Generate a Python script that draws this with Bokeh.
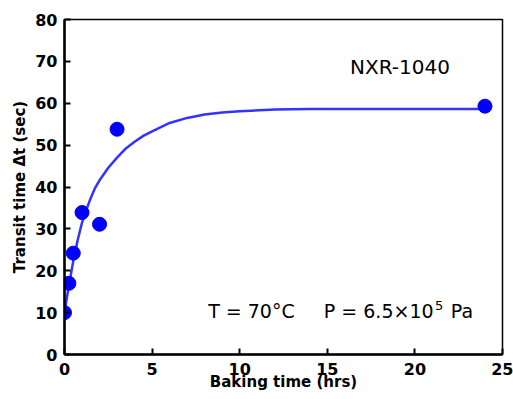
from bokeh.plotting import figure
from bokeh.models import Range1d, Label, FixedTicker
from bokeh.embed import file_html
from bokeh.resources import INLINE

# measured data points
bake_hrs = [0, 0.25, 0.5, 1.0, 2.0, 3.0, 24.0]
transit_sec = [10.0, 17.0, 24.2, 33.9, 31.1, 53.8, 59.3]

# fitted curve
fit_hrs = [0, 0.25, 0.5, 0.75, 1.0, 1.25, 1.5, 1.75, 2.0, 2.5, 3.0, 3.5, 4.0,
           4.5, 5.0, 6.0, 7.0, 8.0, 9.0, 10.0, 12.0, 14.0, 17.0, 20.0, 24.0]
fit_sec = [10.0, 16.5, 22.3, 27.3, 31.5, 34.6, 37.4, 39.8, 41.6, 44.6, 47.0,
           49.2, 50.8, 52.2, 53.3, 55.3, 56.5, 57.3, 57.8, 58.1, 58.5, 58.6,
           58.6, 58.6, 58.6]

x_ticks = [0, 5, 10, 15, 20, 25]
y_ticks = [0, 10, 20, 30, 40, 50, 60, 70, 80]

p = figure(width=513, height=399, output_backend="svg", toolbar_location=None,
           x_range=Range1d(0, 25), y_range=Range1d(0, 80),
           min_border_left=64, min_border_right=11, min_border_top=19,
           min_border_bottom=45)
p.xgrid.visible = False
p.ygrid.visible = False
p.outline_line_color = "black"
p.outline_line_width = 1.5
p.background_fill_color = "white"
p.border_fill_color = "white"

for ax in (p.xaxis, p.yaxis):
    ax.axis_line_width = 2.5
    ax.axis_line_color = "black"
    ax.major_tick_in = 6
    ax.major_tick_out = 0
    ax.major_tick_line_width = 2
    ax.minor_tick_in = 0
    ax.minor_tick_out = 0
    ax.major_label_text_font = "DejaVu Sans"
    ax.major_label_text_font_style = "bold"
    ax.major_label_text_font_size = "16px"
    ax.major_label_text_color = "black"
    ax.axis_label_text_font = "DejaVu Sans"
    ax.axis_label_text_font_style = "bold"
    ax.axis_label_text_font_size = "15px"
    ax.axis_label_text_color = "black"

p.xaxis.ticker = FixedTicker(ticks=x_ticks)
p.yaxis.ticker = FixedTicker(ticks=y_ticks)
p.xaxis.axis_label = "Baking time (hrs)"
p.yaxis.axis_label = "Transit time \u0394t (sec)"
p.xaxis.major_label_standoff = 8
p.xaxis.axis_label_standoff = -5
p.yaxis.major_label_standoff = 7
p.yaxis.axis_label_standoff = 3

p.line(fit_hrs, fit_sec, line_width=2.5, line_color="#3333FF")
r = p.scatter(bake_hrs, transit_sec, size=14, fill_color="#0000FF",
              line_color="#0000FF")
try:
    r.clip = False
except Exception:
    pass

def lab(x, y, t, size):
    p.add_layout(Label(x=x, y=y, text=t, text_font="DejaVu Sans",
                       text_font_size=size, text_color="black",
                       text_baseline="alphabetic", text_align="left"))

lab(16.3, 68.7, "NXR-1040", "20px")
lab(8.2, 10.5, "T = 70\u00b0C", "19px")
lab(14.8, 10.5, "P = 6.5\u00d710", "19px")
lab(21.15, 11.8, "5", "13px")
lab(22.05, 10.5, "Pa", "19px")

open("out.html", "w").write(file_html(p, INLINE))
